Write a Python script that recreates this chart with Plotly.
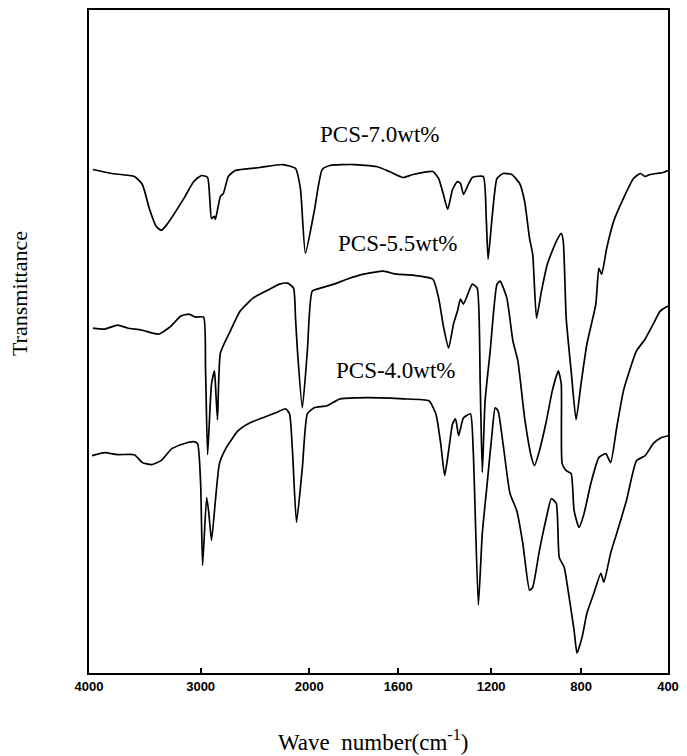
import numpy as np
import plotly.graph_objects as go

# Tick labels of the wavenumber axis (FTIR scale change at 2000 cm-1)
tick_wn = [4000, 3000, 2000, 1600, 1200, 800, 400]
tick_text = ["4000", "3000", "2000", "1600", "1200", "800", "400"]
# relative position of each tick along the axis (layout of the broken scale)
tick_frac = [0.0, 0.1928, 0.3805, 0.5341, 0.6945, 0.8498, 1.0]

# PCS-7.0wt%
wn_70 = [3965, 3796, 3593, 3522, 3460, 3398, 3354, 3301, 3150, 3062, 2991, 2936, 2900, 2873, 2864,
         2818, 2791, 2745, 2682, 2455, 2245, 2127, 2082, 2036, 1978, 1942, 1907, 1800, 1698, 1640,
         1579, 1536, 1451, 1426, 1409, 1387, 1366, 1345, 1332, 1319, 1298, 1281, 1234, 1221, 1213,
         1196, 1174, 1147, 1108, 1073, 1051, 1029, 1015, 998, 976, 950, 910, 888, 879, 866, 844,
         822, 800, 773, 732, 718, 705, 682, 650, 605, 559, 527, 505, 482, 423, 400]
tr_70 = [50.5, 50.1, 49.8, 49.0, 46.6, 44.8, 44.4, 45.0, 47.6, 49.3, 49.9, 49.7, 45.6, 45.8, 45.5,
         47.8, 48.1, 49.8, 50.4, 50.7, 51.0, 50.6, 48.6, 42.1, 46.3, 50.5, 50.9, 51.0, 50.8, 50.3,
         49.7, 50.0, 50.3, 49.6, 48.3, 46.5, 48.5, 49.3, 49.1, 48.0, 49.0, 49.7, 49.8, 45.6, 41.5,
         45.6, 49.6, 50.1, 50.0, 49.1, 47.3, 43.6, 42.0, 35.6, 38.3, 41.0, 43.3, 44.1, 43.3, 35.6, 30.3,
         25.4, 29.0, 33.0, 37.0, 40.6, 40.0, 42.6, 45.3, 47.6, 49.6, 50.1, 49.8, 50.0, 50.2, 50.4]

# PCS-5.5wt%
wn_55 = [3965, 3858, 3743, 3655, 3531, 3434, 3372, 3265, 3177, 3106, 3044, 2973, 2955, 2936, 2900,
         2873, 2864, 2845, 2818, 2727, 2636, 2518, 2400, 2273, 2200, 2145, 2127, 2109, 2064, 2018,
         1987, 1951, 1889, 1831, 1756, 1667, 1609, 1536, 1451, 1426, 1404, 1383, 1362, 1345, 1332,
         1319, 1281, 1260, 1247, 1238, 1226, 1204, 1174, 1160, 1130, 1103, 1081, 1051, 1020, 1007,
         985, 954, 928, 901, 888, 884, 866, 844, 831, 809, 786, 755, 718, 686, 664, 636, 605, 573,
         545, 505, 468, 436, 400]
tr_55 = [34.6, 34.5, 34.9, 34.6, 34.4, 34.1, 34.0, 34.8, 35.8, 36.0, 35.7, 35.7, 30.6, 21.9, 29.0,
         30.3, 29.0, 25.4, 32.1, 34.3, 36.3, 37.6, 38.3, 39.0, 39.1, 38.6, 35.6, 32.3, 26.6, 32.3,
         38.3, 38.6, 39.0, 39.5, 40.0, 40.3, 40.0, 39.9, 39.5, 37.6, 34.6, 32.6, 35.0, 36.3, 37.5,
         37.0, 39.0, 38.6, 29.0, 20.1, 27.3, 32.3, 39.0, 39.3, 37.6, 33.3, 31.3, 25.6, 21.6, 20.8,
         22.3, 25.3, 28.3, 30.3, 29.0, 21.0, 20.3, 20.0, 16.3, 14.6, 16.0, 19.0, 21.6, 22.0, 21.1,
         24.6, 28.3, 30.6, 32.3, 33.5, 35.0, 36.3, 36.8]

# PCS-4.0wt%
wn_40 = [3973, 3858, 3743, 3593, 3522, 3442, 3354, 3257, 3150, 3062, 3027, 3000, 2982, 2945, 2927,
         2900, 2864, 2827, 2764, 2655, 2545, 2427, 2309, 2218, 2182, 2155, 2118, 2064, 2018, 1978,
         1920, 1862, 1787, 1684, 1579, 1468, 1438, 1417, 1400, 1383, 1366, 1353, 1340, 1319, 1289,
         1277, 1255, 1238, 1217, 1196, 1182, 1169, 1147, 1116, 1086, 1059, 1029, 1015, 985, 954, 932,
         910, 897, 875, 853, 831, 818, 795, 773, 741, 709, 695, 664, 636, 591, 545, 505, 468, 432, 400]
tr_40 = [21.8, 22.1, 21.9, 21.9, 21.1, 20.9, 21.3, 22.5, 23.0, 23.2, 23.0, 19.0, 10.8, 17.6, 16.3,
         13.3, 17.3, 21.0, 22.6, 24.3, 25.1, 25.6, 26.1, 26.5, 26.0, 22.3, 15.1, 20.6, 26.0, 26.6,
         26.8, 27.5, 27.6, 27.6, 27.5, 27.3, 26.0, 23.0, 19.8, 22.3, 25.0, 25.5, 23.8, 25.6, 26.0,
         22.3, 6.8, 14.0, 19.0, 24.0, 26.6, 26.3, 23.0, 18.0, 16.3, 13.0, 8.3, 8.6, 12.3, 15.6, 17.5,
         17.0, 11.6, 10.6, 7.6, 4.3, 2.0, 3.6, 6.0, 8.0, 10.0, 9.1, 12.0, 14.0, 17.3, 21.3, 21.8,
         23.0, 23.6, 23.8]

series = [("PCS-7.0wt%", wn_70, tr_70), ("PCS-5.5wt%", wn_55, tr_55), ("PCS-4.0wt%", wn_40, tr_40)]


def to_axis(wn):
    """Broken FTIR wavenumber scale -> linear axis coordinate."""
    wn = np.asarray(wn, dtype=float)
    return np.interp(-wn, -np.asarray(tick_wn, float), tick_frac)


fig = go.Figure()
for name, wn, tr in series:
    fig.add_trace(go.Scatter(x=to_axis(wn), y=tr, mode="lines", name=name,
                             line=dict(color="black", width=1.7, shape="spline", smoothing=0.5),
                             showlegend=False))

serif = "Liberation Serif"
labels = [("PCS-7.0wt%", 0.502, 0.812), ("PCS-5.5wt%", 0.534, 0.648), ("PCS-4.0wt%", 0.531, 0.456)]
for txt, xp, yp in labels:
    fig.add_annotation(text=txt, x=xp, y=yp, xref="paper", yref="paper", showarrow=False,
                       xanchor="center", yanchor="middle",
                       font=dict(family=serif, size=23, color="black"))

fig.add_annotation(text="Transmittance", x=-0.121, y=0.573, xref="paper", yref="paper",
                   textangle=-90, showarrow=False, xanchor="center", yanchor="middle",
                   font=dict(family=serif, size=22, color="black"))
fig.add_annotation(text="Wave&nbsp;&nbsp;number(cm<sup>-1</sup>)", x=0.49, y=-0.102,
                   xref="paper", yref="paper",
                   showarrow=False, xanchor="center", yanchor="middle",
                   font=dict(family=serif, size=23, color="black"))

fig.update_xaxes(range=[0, 1], tickvals=to_axis(tick_wn), ticktext=tick_text,
                 ticks="inside", ticklen=5, tickcolor="black", tickwidth=1.5,
                 showline=True, linecolor="black", linewidth=2, mirror=True,
                 showgrid=False, zeroline=False,
                 tickfont=dict(family="Liberation Sans", size=13, color="black", weight="bold"))
fig.update_yaxes(range=[0, 66.5], showticklabels=False, ticks="",
                 showline=True, linecolor="black", linewidth=2, mirror=True,
                 showgrid=False, zeroline=False)

fig.update_layout(width=687, height=756, margin=dict(l=89, r=12, t=8, b=83),
                  plot_bgcolor="white", paper_bgcolor="white")

fig.write_html("out.html", config={"displayModeBar": False},
               post_script="document.body.style.margin='0';")
